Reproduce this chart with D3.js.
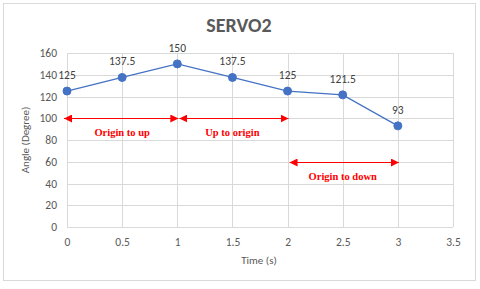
<!DOCTYPE html>
<html>
<head>
<meta charset="utf-8">
<script src="https://cdn.jsdelivr.net/npm/d3@7"></script>
<style>
  body { margin: 0; background: #fff; }
  text { font-family: Calibri, Carlito, "Liberation Sans", sans-serif; }
</style>
</head>
<body>
<div id="chart"></div>
<script>
// values
var times = [0, 0.5, 1, 1.5, 2, 2.5, 3];
var angles = [125, 137.5, 150, 137.5, 125, 121.5, 93];
var xTicks = [0, 0.5, 1, 1.5, 2, 2.5, 3, 3.5];
var yTicks = [0, 20, 40, 60, 80, 100, 120, 140, 160];

// red annotation arrows (x in seconds, y in degrees)
var arrowStart = [0, 1, 2];
var arrowEnd = [1, 2, 3];
var arrowLevel = [100, 100, 60];
var arrowText = ["Origin to up", "Up to origin", "Origin to down"];

var W = 480, H = 289;
var margin = { top: 53, right: 27, bottom: 62, left: 67 },
  width = W - margin.left - margin.right,
  height = H - margin.top - margin.bottom;

var svg = d3.select("#chart").append("svg")
  .attr("width", W)
  .attr("height", H);

// chart frame
svg.append("rect")
  .attr("x", 3.5).attr("y", 3.5)
  .attr("width", 472).attr("height", 277)
  .attr("fill", "#fff")
  .attr("stroke", "#d9d9d9");

svg.append("text")
  .attr("x", 239).attr("y", 32)
  .attr("text-anchor", "middle")
  .attr("font-size", 20)
  .attr("font-weight", "bold")
  .attr("fill", "#595959")
  .text("SERVO2");

var g = svg.append("g")
  .attr("transform", `translate(${margin.left}, ${margin.top})`);

var x = d3.scaleLinear().domain([0, 3.5]).range([0, width]);
var y = d3.scaleLinear().domain([0, 160]).range([height, 0]);

// gridlines
g.append("g").selectAll("line.h").data(yTicks).enter().append("line")
  .attr("x1", 0).attr("x2", width)
  .attr("y1", (d) => Math.round(y(d)) + 0.5)
  .attr("y2", (d) => Math.round(y(d)) + 0.5)
  .attr("stroke", "#d9d9d9");

g.append("g").selectAll("line.v").data(xTicks).enter().append("line")
  .attr("x1", (d) => Math.round(x(d)) + 0.5)
  .attr("x2", (d) => Math.round(x(d)) + 0.5)
  .attr("y1", 0).attr("y2", height)
  .attr("stroke", "#d9d9d9");

// axes: labels only, like Excel
var xAxis = d3.axisBottom(x).tickValues(xTicks).tickFormat((d) => String(d))
  .tickSize(0).tickPadding(11);
var yAxis = d3.axisLeft(y).tickValues(yTicks).tickSize(0).tickPadding(10);

g.append("g")
  .attr("transform", "translate(0, " + height + ")")
  .call(xAxis)
  .call((s) => s.select(".domain").remove())
  .selectAll("text")
  .attr("font-size", 11.5)
  .attr("fill", "#595959")
  .style("font-family", "Calibri, Carlito, 'Liberation Sans', sans-serif");

g.append("g")
  .call(yAxis)
  .call((s) => s.select(".domain").remove())
  .selectAll("text")
  .attr("font-size", 11.5)
  .attr("fill", "#595959")
  .style("font-family", "Calibri, Carlito, 'Liberation Sans', sans-serif");

svg.append("text")
  .attr("x", margin.left + width / 2 - 1)
  .attr("y", 264)
  .attr("text-anchor", "middle")
  .attr("font-size", 11)
  .attr("fill", "#595959")
  .text("Time (s)");

svg.append("text")
  .attr("transform", "translate(29, 140) rotate(-90)")
  .attr("text-anchor", "middle")
  .attr("font-size", 11)
  .attr("fill", "#595959")
  .text("Angle (Degree)");

// arrows
var defs = svg.append("defs");
defs.append("marker")
  .attr("id", "head")
  .attr("viewBox", "0 0 10 10")
  .attr("refX", 10).attr("refY", 5)
  .attr("markerWidth", 8).attr("markerHeight", 8)
  .attr("markerUnits", "userSpaceOnUse")
  .attr("orient", "auto-start-reverse")
  .append("path")
  .attr("d", "M0,0 L10,5 L0,10 Z")
  .attr("fill", "#ff0000");

arrowStart.forEach(function(s, i) {
  var y0 = Math.round(y(arrowLevel[i])) + 0.5;
  g.append("line")
    .attr("x1", x(s) - 3 + (i == 0 ? 0 : 5))
    .attr("x2", x(arrowEnd[i]) + 1)
    .attr("y1", y0).attr("y2", y0)
    .attr("stroke", "#ff0000")
    .attr("stroke-width", 1)
    .attr("marker-start", "url(#head)")
    .attr("marker-end", "url(#head)");
  g.append("text")
    .attr("x", x((s + arrowEnd[i]) / 2))
    .attr("y", y0 + 17)
    .attr("text-anchor", "middle")
    .attr("font-size", 10.5)
    .attr("font-weight", "bold")
    .attr("fill", "#ff0000")
    .style("font-family", "'Liberation Serif', 'Times New Roman', serif")
    .text(arrowText[i]);
});

// series
var pts = times.map((t, i) => ({ t: t, v: angles[i] }));

g.append("path")
  .datum(pts)
  .attr("fill", "none")
  .attr("stroke", "#4472c4")
  .attr("stroke-width", 1.25)
  .attr("d", d3.line().x((d) => x(d.t)).y((d) => y(d.v)));

g.selectAll("circle.pt").data(pts).enter().append("circle")
  .attr("cx", (d) => x(d.t))
  .attr("cy", (d) => y(d.v))
  .attr("r", 4)
  .attr("fill", "#4472c4")
  .attr("stroke", "#4472c4");

g.selectAll("text.lbl").data(pts).enter().append("text")
  .attr("x", (d) => x(d.t))
  .attr("y", (d) => y(d.v) - 12)
  .attr("text-anchor", "middle")
  .attr("font-size", 11.5)
  .attr("fill", "#404040")
  .text((d) => d.v);
</script>
</body>
</html>
